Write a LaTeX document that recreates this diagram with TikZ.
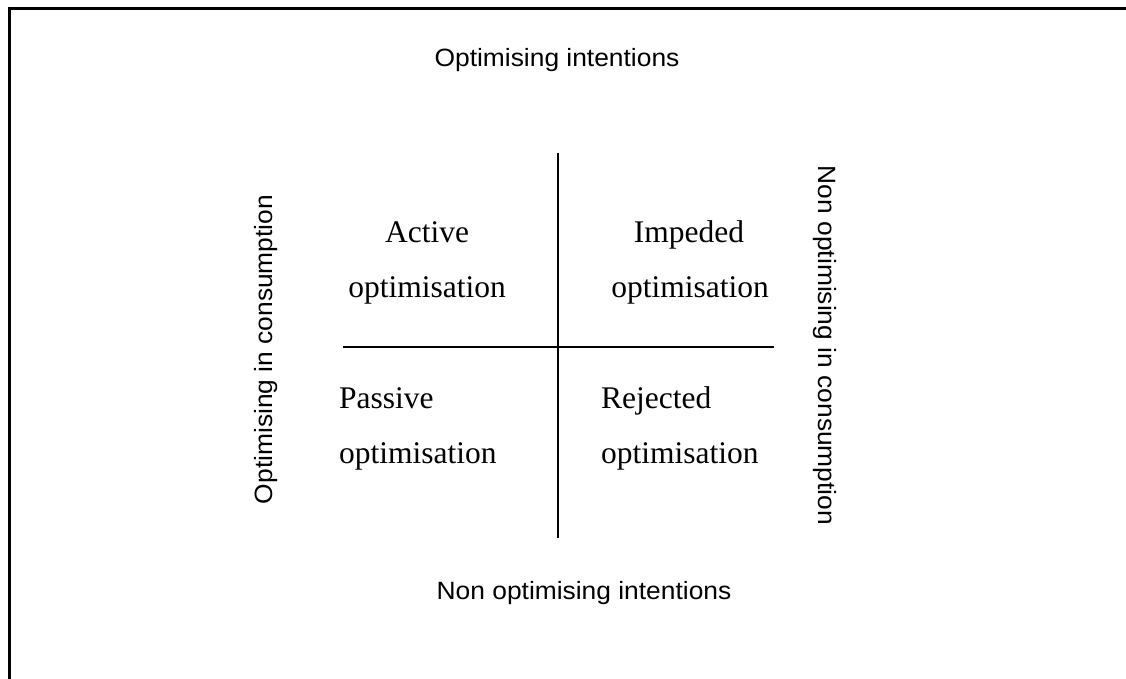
\documentclass[tikz,border=0pt]{standalone}
\usepackage{fontspec}
\usepackage{graphicx}
\setmainfont{Liberation Serif}
\setsansfont{Liberation Sans}
\begin{document}
\begin{tikzpicture}[x=1pt,y=-1pt,
  serifbox/.style={inner sep=0pt,font=\rmfamily\fontsize{31.5}{37}\selectfont},
  sansbox/.style={inner sep=0pt,font=\sffamily\fontsize{25}{30}\selectfont},
  frameline/.style={line width=3pt,black},
  axisline/.style={line width=2pt,black}]
\useasboundingbox (0,0) rectangle (1126,679);
% frame (top and left edges)
\coordinate (fTL) at (9.5,8.5);
\coordinate (fTR) at (1126,8.5);
\coordinate (fBL) at (9.5,679);
\draw[frameline] (fTR) -- (fTL) -- (fBL);
% axes
\coordinate (vTop) at (558,153);
\coordinate (vBot) at (558,538);
\coordinate (hL) at (343,347);
\coordinate (hR) at (774,347);
\draw[axisline] (vTop) -- (vBot);
\draw[axisline] (hL) -- (hR);
% outer labels
\node[sansbox,anchor=base] (top) at (557,67) {\scalebox{1.055}[1]{Optimising intentions}};
\node[sansbox,anchor=base] (bot) at (584,599) {\scalebox{1.055}[1]{Non optimising intentions}};
\node[sansbox,anchor=base,rotate=90] (left) at (272,349.5) {\scalebox{1.055}[1]{Optimising in consumption}};
\node[sansbox,anchor=base,rotate=-90] (right) at (818,345.5) {\scalebox{1.055}[1]{Non optimising in consumption}};
% quadrant labels
\node[serifbox,anchor=base] (a1) at (427,242) {Active};
\node[serifbox,anchor=base] (a2) at (427,297) {optimisation};
\node[serifbox,anchor=base] (i1) at (689,242) {Impeded};
\node[serifbox,anchor=base] (i2) at (690,297) {optimisation};
\node[serifbox,anchor=base west] (p1) at (339,408) {Passive};
\node[serifbox,anchor=base west] (p2) at (339,463) {optimisation};
\node[serifbox,anchor=base west] (r1) at (601,408) {Rejected};
\node[serifbox,anchor=base west] (r2) at (601,463) {optimisation};
\end{tikzpicture}
\end{document}
